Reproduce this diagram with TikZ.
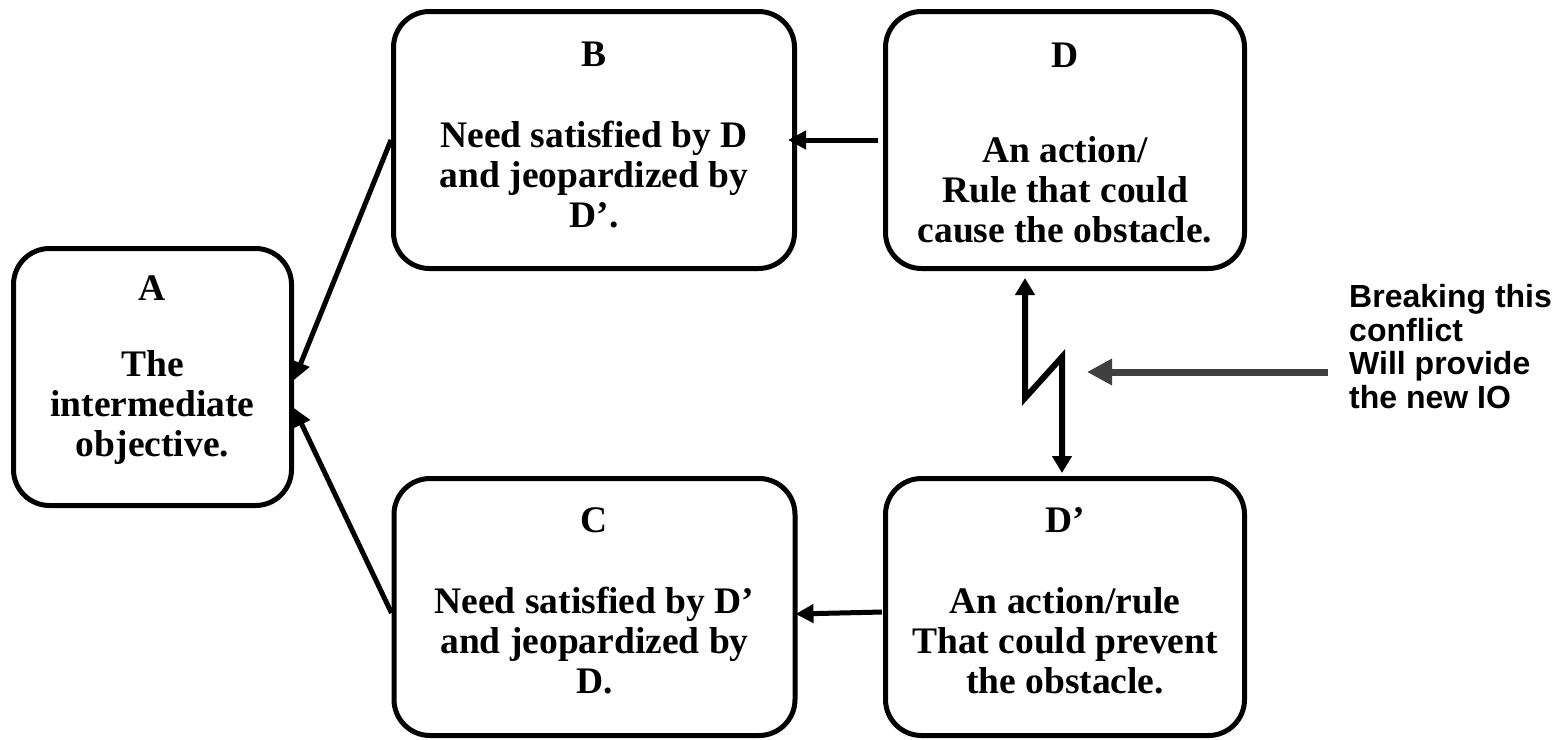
\documentclass[tikz,border=0pt]{standalone}
\usepackage{fontspec}
\setmainfont{Liberation Serif}
\newfontfamily\notefont{Liberation Sans}
\usetikzlibrary{arrows.meta}
\definecolor{hintgray}{HTML}{3F3F3F}
\begin{document}
\begin{tikzpicture}[x=1pt,y=-1pt,
  box/.style={draw=black, line width=5pt, rounded corners=36pt,
              minimum height=257pt, inner sep=0pt},
  boxtitle/.style={anchor=base, inner sep=0pt,
                   font=\fontsize{37.5}{40}\selectfont\bfseries},
  boxbody/.style={anchor=base, inner sep=0pt, align=center,
                  font=\fontsize{37.5}{40}\selectfont\bfseries},
  arr/.style={line width=5pt, -{Triangle[length=18pt,width=18pt]}},
  bolt/.style={line width=6pt,
               {Triangle[length=17pt,width=19pt]}-{Triangle[length=17pt,width=19pt]}},
  notearrow/.style={draw=hintgray, line width=7pt,
                    -{Triangle[length=25pt,width=25pt]}},
]
\useasboundingbox (0,0) rectangle (1568,739);

% boxes
\node[box, minimum width=278pt] (A)  at (152.5,377) {};
\node[box, minimum width=401pt] (B)  at (594,140)   {};
\node[box, minimum width=359pt] (D)  at (1065,140)  {};
\node[box, minimum width=401pt] (C)  at (594.5,607) {};
\node[box, minimum width=359pt] (Dp) at (1065,607)  {};

% box titles (placed on their baselines)
\node[boxtitle] (Atitle)  at (152.5,300) {A};
\node[boxtitle] (Btitle)  at (594,66)    {B};
\node[boxtitle] (Dtitle)  at (1065,67)   {D};
\node[boxtitle] (Ctitle)  at (594.5,532) {C};
\node[boxtitle] (Dptitle) at (1065,532)  {D’};

% box texts (placed on the baseline of their last line)
\node[boxbody] (Abody)  at (152.5,456) {The\\intermediate\\objective.};
\node[boxbody] (Bbody)  at (594,227)   {Need satisfied by D\\and jeopardized by\\D’.};
\node[boxbody] (Dbody)  at (1065,242)  {An action/\\Rule that could\\cause the obstacle.};
\node[boxbody] (Cbody)  at (594.5,693) {Need satisfied by D’\\and jeopardized by\\D.};
\node[boxbody] (Dpbody) at (1065,693)  {An action/rule\\That could prevent\\the obstacle.};

% side note
\node[anchor=base west, inner sep=0pt, align=left,
      font=\notefont\fontsize{32}{33.5}\selectfont\bfseries] (note)
  at (1349,408) {Breaking this\\conflict\\Will provide\\the new IO};

% connectors
\draw[arr, shorten <=5pt] (D.west) -- ([xshift=-9pt]B.east);
\draw[arr, shorten <=1pt] ([yshift=-5pt]Dp.west) -- ([xshift=-2pt,yshift=-7pt]C.east);
\draw[arr] (B.west) -- ([yshift=-3pt]A.east);
\draw[arr] ([yshift=-6pt]C.west) -- ([yshift=-31pt]A.east);

% conflict bolt between D and D'
\draw[bolt, shorten <=7pt, shorten >=3pt]
  ([xshift=-40pt]D.south) -- ++(0,127) coordinate (k1)
  -- ++(37,-41) coordinate (k2) -- (k2 |- Dp.north);

% pointer from the note to the bolt
\coordinate (boltmark) at (1087,372);
\draw[notearrow, shorten <=21pt] (note.west |- boltmark) -- (boltmark);
\end{tikzpicture}
\end{document}
